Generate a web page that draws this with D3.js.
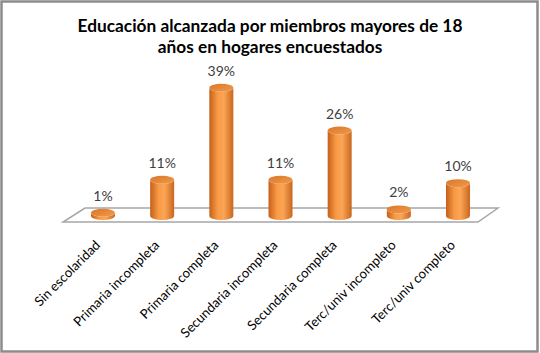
<!DOCTYPE html>
<html>
<head>
<meta charset="utf-8">
<script src="https://cdn.jsdelivr.net/npm/d3@7"></script>
<style>
  body { margin: 0; background: #fff; }
  text { font-family: Lato, "Noto Sans", sans-serif; }
</style>
</head>
<body>
<script>
var width = 540, height = 353;

var categories = ["Sin escolaridad", "Primaria incompleta", "Primaria completa",
    "Secundaria incompleta", "Secundaria completa", "Terc/univ incompleto", "Terc/univ completo"];
var values = [0.01, 0.11, 0.39, 0.11, 0.26, 0.02, 0.10];
var titleLines = ["Educación alcanzada por miembros mayores de 18", "años en hogares encuestados"];

var data = categories.map(function(c, i) { return {cat: c, value: values[i]}; });

var svg = d3.select("body").append("svg")
    .attr("width", width)
    .attr("height", height);

// gradients for the cylinders
var defs = svg.append("defs");
var body = defs.append("linearGradient").attr("id", "cylBody")
    .attr("x1", "0%").attr("x2", "100%").attr("y1", "0%").attr("y2", "0%");
body.append("stop").attr("offset", "0%").attr("stop-color", "#c4601a");
body.append("stop").attr("offset", "35%").attr("stop-color", "#f99a45");
body.append("stop").attr("offset", "60%").attr("stop-color", "#fba556");
body.append("stop").attr("offset", "100%").attr("stop-color", "#c9671e");
var top_ = defs.append("linearGradient").attr("id", "cylTop")
    .attr("x1", "0%").attr("x2", "100%").attr("y1", "0%").attr("y2", "100%");
top_.append("stop").attr("offset", "0%").attr("stop-color", "#d8772c");
top_.append("stop").attr("offset", "100%").attr("stop-color", "#f39a48");

// chart border
svg.append("rect")
    .attr("x", 1.5).attr("y", 1.5)
    .attr("width", width - 4).attr("height", height - 3)
    .attr("fill", "#fff")
    .attr("stroke", "#8c8c8c")
    .attr("stroke-width", 2.5);

svg.selectAll(".title")
    .data(titleLines)
    .enter()
    .append("text")
    .attr("class", "title")
    .attr("x", 270)
    .attr("y", function(d, i) { return 32 + i * 21; })
    .attr("text-anchor", "middle")
    .attr("font-size", "17.3px")
    .attr("font-weight", "bold")
    .attr("fill", "#000")
    .text(function(d) { return d; });

var xScale = d3.scalePoint()
    .domain(categories)
    .range([103, 458]);

var yScale = d3.scaleLinear()
    .domain([0, 0.4])
    .range([216, 84.5]);

// floor
var floorBack = 208, floorFront = 222;
svg.append("path")
    .attr("d", "M85," + floorBack + "L498," + floorBack + "L478," + floorFront + "L63," + floorFront + "Z")
    .attr("fill", "#fff")
    .attr("stroke", "#a6a6a6")
    .attr("stroke-width", 1.5);

var rx = 12, ry = 4;

function cylinder(d) {
    var cx = xScale(d.cat), y0 = yScale(0), y1 = yScale(d.value);
    return "M" + (cx - rx) + "," + y1 +
        "L" + (cx - rx) + "," + y0 +
        "A" + rx + "," + ry + " 0 0 0 " + (cx + rx) + "," + y0 +
        "L" + (cx + rx) + "," + y1 +
        "A" + rx + "," + ry + " 0 0 1 " + (cx - rx) + "," + y1 + "Z";
}

var bars = svg.selectAll(".bar")
    .data(data)
    .enter()
    .append("g")
    .attr("class", "bar");

bars.append("path")
    .attr("d", cylinder)
    .attr("fill", "url(#cylBody)");

bars.append("ellipse")
    .attr("cx", function(d) { return xScale(d.cat); })
    .attr("cy", function(d) { return yScale(d.value); })
    .attr("rx", rx)
    .attr("ry", ry)
    .attr("fill", "url(#cylTop)");

svg.selectAll(".value")
    .data(data)
    .enter()
    .append("text")
    .attr("class", "value")
    .attr("x", function(d) { return xScale(d.cat); })
    .attr("y", function(d) { return yScale(d.value) - 12; })
    .attr("text-anchor", "middle")
    .attr("font-size", "14px")
    .attr("fill", "#404040")
    .text(function(d) { return Math.round(d.value * 100) + "%"; });

svg.selectAll(".cat")
    .data(categories)
    .enter()
    .append("text")
    .attr("class", "cat")
    .attr("text-anchor", "end")
    .attr("font-size", "13.2px")
    .attr("fill", "#000")
    .attr("transform", function(d) {
        return "translate(" + (xScale(d) - 2) + ",246) rotate(-45)";
    })
    .text(function(d) { return d; });
</script>
</body>
</html>
